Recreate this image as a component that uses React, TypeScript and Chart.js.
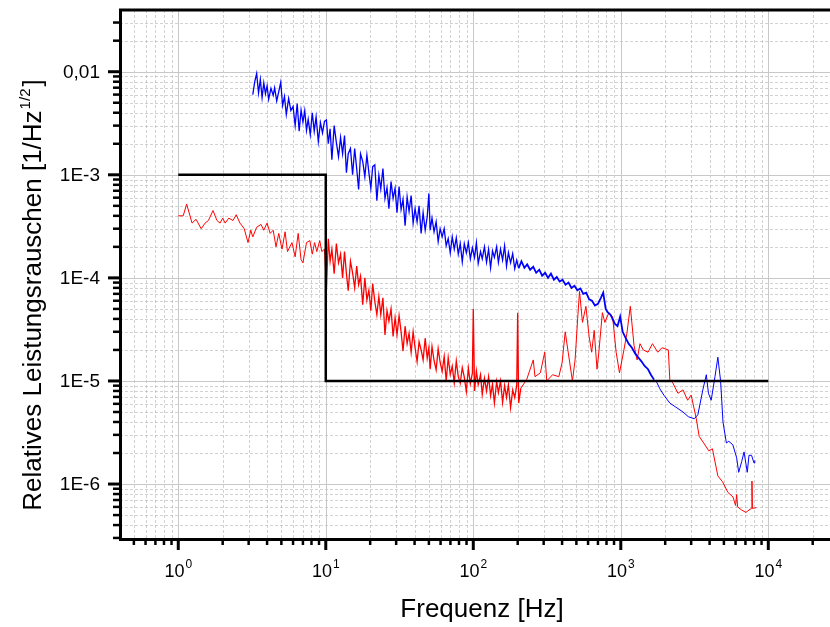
import React, { useEffect, useRef } from 'react';
import { Chart, registerables } from 'chart.js';

Chart.register(...registerables);

// Axis ranges (log scales)
const X_MIN = 0.4027;
const X_MAX = 26200;
const Y_MIN = 2.93e-7;
const Y_MAX = 0.0397;

// Tick labels
const xMajorTicks = [1, 10, 100, 1000, 10000];
const xTickExponents = ['0', '1', '2', '3', '4'];
const yMajorTicks = [1e-2, 1e-3, 1e-4, 1e-5, 1e-6];
const yTickLabels = ['0,01', '1E-3', '1E-4', '1E-5', '1E-6'];
const minorMantissas = [2, 3, 4, 5, 6, 7, 8, 9];

const xTitle = 'Frequenz [Hz]';
const yTitleMain = 'Relatives Leistungsrauschen [1/Hz';
const yTitleSup = '1/2';
const yTitleEnd = ']';

// Limit (black step line): [frequency Hz, value]
const limitLine: [number, number][] = [
  [1, 1e-3], [10, 1e-3], [10, 1e-5], [10000, 1e-5],
];

// Blue noise spectrum: [frequency Hz, value]
const blueNoise: [number, number][] = [
  [3.2, 6.0e-3], [3.3, 8.0e-3], [3.4, 9.6e-3], [3.5, 6.2e-3], [3.6, 8.4e-3], [3.7, 5.6e-3], [3.8, 7.8e-3], [3.9, 6.1e-3],
  [4.0, 7.3e-3], [4.1, 5.4e-3], [4.25, 6.9e-3], [4.4, 5.9e-3], [4.5, 7.0e-3], [4.65, 5.2e-3], [4.8, 6.4e-3], [4.95, 7.9e-3],
  [5.1, 4.7e-3], [5.25, 5.75e-3], [5.4, 3.85e-3], [5.6, 5.5e-3], [5.8, 4.2e-3], [6.0, 4.6e-3], [6.2, 3.0e-3], [6.4, 4.9e-3],
  [6.6, 2.65e-3], [6.8, 4.25e-3], [7.0, 3.25e-3], [7.2, 4.2e-3], [7.4, 2.7e-3], [7.6, 3.45e-3], [7.85, 2.45e-3], [8.1, 4.0e-3],
  [8.35, 2.65e-3], [8.6, 3.65e-3], [8.9, 2.1e-3], [9.2, 3.2e-3], [9.5, 2.55e-3], [9.8, 3.3e-3],
  [10.1, 3.4e-3], [10.4, 2.0e-3], [10.7, 2.8e-3], [11, 1.4e-3], [11.4, 3.0e-3], [11.8, 2.05e-3], [12.2, 1.5e-3], [12.6, 2.3e-3],
  [13, 1.6e-3], [13.4, 2.4e-3], [13.8, 1.05e-3], [14.2, 1.6e-3], [14.7, 1.8e-3], [15.2, 1.0e-3], [15.7, 1.8e-3], [16.2, 1.15e-3],
  [16.7, 7.2e-4], [17.2, 1.6e-3], [17.8, 1.35e-3], [18.4, 9.6e-4], [19, 1.55e-3], [19.6, 1.05e-3], [20.2, 7.4e-4], [20.8, 1.2e-3],
  [21.5, 1.25e-3], [22.2, 5.6e-4], [22.9, 9.9e-4], [23.6, 7.3e-4], [24.4, 1.15e-3], [25.2, 5.9e-4], [26, 7.5e-4], [26.8, 4.7e-4],
  [27.7, 8.6e-4], [28.6, 5.9e-4], [29.5, 7.4e-4], [30.4, 4.3e-4], [31.4, 7.7e-4], [32.4, 4.6e-4], [33.4, 5.8e-4], [34.5, 3.2e-4],
  [35.6, 6.1e-4], [36.7, 4.4e-4], [37.9, 6.3e-4], [39.1, 3.4e-4], [40.3, 4.7e-4], [41.6, 3.5e-4], [42.9, 5.0e-4], [44.3, 2.7e-4],
  [45.7, 4.3e-4], [47.2, 2.9e-4], [48.7, 3.9e-4], [50, 6.6e-4], [51, 2.9e-4], [52.5, 3.8e-4], [54.2, 2.8e-4], [56, 3.5e-4],
  [57.8, 2.25e-4], [59.6, 3.0e-4], [61.5, 2.5e-4], [63.5, 3.0e-4], [65.5, 2.05e-4], [67.6, 2.4e-4], [69.8, 1.75e-4], [72, 2.5e-4],
  [74.3, 1.9e-4], [76.7, 2.45e-4], [79.1, 1.7e-4], [81.6, 2.15e-4], [84.2, 1.43e-4], [86.9, 2.15e-4], [89.7, 1.75e-4], [92.6, 2.2e-4],
  [95.5, 1.53e-4], [98.6, 1.96e-4], [102, 1.58e-4], [105, 2.2e-4], [108, 1.38e-4], [112, 1.8e-4], [115, 1.53e-4], [119, 2.0e-4],
  [123, 1.42e-4], [127, 1.9e-4], [131, 1.25e-4], [135, 1.83e-4], [139, 1.58e-4], [144, 2.0e-4], [148, 1.41e-4], [153, 1.9e-4],
  [158, 1.49e-4], [163, 2.05e-4], [168, 1.3e-4], [173, 1.76e-4], [179, 1.4e-4], [185, 1.72e-4], [191, 1.23e-4], [197, 1.49e-4],
  [203, 1.24e-4],
  [212, 1.45e-4], [222, 1.25e-4], [232, 1.35e-4], [243, 1.2e-4], [255, 1.28e-4], [267, 1.12e-4], [280, 1.2e-4], [293, 1.05e-4],
  [307, 1.12e-4], [321, 1.0e-4], [336, 1.1e-4], [352, 9.6e-5], [368, 1.02e-4], [385, 9.2e-5], [403, 9.6e-5], [422, 8.6e-5],
  [442, 9.0e-5], [463, 8.0e-5], [485, 8.4e-5], [508, 7.6e-5], [532, 7.9e-5], [557, 7.0e-5], [583, 7.2e-5], [610, 6.2e-5],
  [638, 6.0e-5], [668, 5.4e-5], [700, 5.6e-5], [733, 6.4e-5], [760, 7.2e-5], [790, 5.0e-5], [820, 4.6e-5], [850, 4.4e-5],
  [880, 4.0e-5], [910, 3.6e-5], [950, 3.4e-5], [990, 4.2e-5], [1030, 3.0e-5], [1080, 2.6e-5], [1130, 2.3e-5], [1190, 2.1e-5],
  [1250, 1.85e-5], [1310, 1.7e-5], [1380, 1.55e-5], [1450, 1.4e-5], [1530, 1.3e-5], [1600, 1.15e-5], [1680, 1.03e-5], [1760, 9.6e-6],
  [1840, 8.4e-6], [1970, 7.2e-6], [2150, 6.1e-6], [2350, 5.6e-6], [2640, 5.0e-6], [2870, 4.5e-6], [3150, 4.3e-6], [3330, 4.7e-6],
  [3600, 8.2e-6], [3800, 1.15e-5], [3930, 7.6e-6], [4100, 6.5e-6], [4350, 1.1e-5], [4550, 1.7e-5], [4750, 1.0e-5], [4930, 4.0e-6],
  [5200, 2.5e-6], [5400, 2.6e-6], [5750, 2.4e-6], [6100, 1.8e-6], [6300, 1.3e-6], [6600, 1.65e-6], [6850, 2.05e-6], [7200, 1.3e-6],
  [7400, 1.9e-6], [7700, 1.9e-6], [8000, 1.6e-6], [8100, 1.7e-6],
];

// Red noise spectrum: [frequency Hz, value]
const redNoise: [number, number][] = [
  [1.0, 4.0e-4], [1.08, 4.0e-4], [1.14, 5.2e-4], [1.24, 3.4e-4], [1.32, 3.7e-4], [1.43, 3.0e-4], [1.52, 3.4e-4], [1.6, 3.6e-4],
  [1.72, 4.5e-4], [1.83, 3.6e-4], [1.92, 3.4e-4], [2.0, 3.8e-4], [2.08, 3.4e-4], [2.2, 3.8e-4], [2.35, 3.6e-4], [2.47, 4.1e-4],
  [2.62, 3.4e-4], [2.8, 3.0e-4], [2.97, 2.2e-4], [3.1, 2.9e-4], [3.2, 2.5e-4], [3.4, 3.1e-4], [3.64, 3.3e-4], [3.8, 2.9e-4],
  [4.0, 3.4e-4], [4.2, 2.7e-4], [4.4, 2.9e-4], [4.6, 2.0e-4], [4.8, 2.7e-4], [5.05, 1.9e-4], [5.3, 2.8e-4], [5.5, 1.8e-4],
  [5.9, 2.2e-4], [6.2, 1.6e-4], [6.5, 2.7e-4], [6.8, 1.5e-4], [7.0, 1.4e-4], [7.4, 2.2e-4], [7.8, 2.3e-4], [8.1, 1.7e-4],
  [8.4, 2.2e-4], [8.7, 1.8e-4], [9.1, 2.3e-4], [9.4, 1.8e-4], [9.8, 1.9e-4], [10.1, 7.5e-5],
  [10.4, 2.4e-4], [10.7, 1.45e-4], [11, 1.9e-4], [11.4, 1.1e-4], [11.8, 2.15e-4], [12.2, 1.4e-4], [12.6, 1.7e-4], [13, 1.0e-4],
  [13.4, 1.8e-4], [13.8, 1.1e-4], [14.2, 7.5e-5], [14.7, 1.45e-4], [15.2, 1.12e-4], [15.7, 8.0e-5], [16.2, 1.3e-4], [16.7, 8.6e-5],
  [17.2, 1.04e-4], [17.8, 5.5e-5], [18.4, 1.0e-4], [19, 6.1e-5], [19.6, 7.6e-5], [20.2, 4.8e-5], [20.8, 8.8e-5], [21.5, 5.9e-5],
  [22.2, 4.4e-5], [22.9, 6.6e-5], [23.6, 4.4e-5], [24.4, 6.4e-5], [25.2, 2.8e-5], [26, 4.8e-5], [26.8, 3.8e-5], [27.7, 5.0e-5],
  [28.6, 2.7e-5], [29.5, 4.1e-5], [30.4, 2.8e-5], [31.4, 4.3e-5], [32.4, 3.0e-5], [33.4, 1.95e-5], [34.5, 3.4e-5], [35.6, 2.3e-5],
  [36.7, 2.9e-5], [37.9, 1.9e-5], [39.1, 3.0e-5], [40.3, 2.1e-5], [41.6, 1.54e-5], [42.9, 2.4e-5], [44.3, 2.0e-5], [45.7, 1.6e-5],
  [47.2, 2.6e-5], [48.7, 1.66e-5], [50, 2.1e-5], [51, 1.3e-5], [52.5, 2.16e-5], [54.2, 1.58e-5], [56, 1.28e-5], [57.8, 2.06e-5],
  [59.6, 1.52e-5], [61.5, 1.24e-5], [63.5, 1.73e-5], [65.5, 1.0e-5], [67.6, 1.68e-5], [69.8, 1.16e-5], [72, 1.39e-5], [74.3, 9.6e-6],
  [76.7, 1.56e-5], [79.1, 1.1e-5], [81.6, 9.5e-6], [84.2, 1.35e-5], [86.9, 1.09e-5], [89.7, 7.9e-6], [92.6, 1.33e-5], [95.5, 9.4e-6],
  [98.6, 1.19e-5], [100, 5.0e-5], [102, 8.0e-6], [105, 1.25e-5], [108, 9.2e-6], [112, 1.15e-5], [115, 7.4e-6], [119, 1.06e-5],
  [123, 8.0e-6], [127, 1.1e-5], [131, 7.2e-6], [135, 9.3e-6], [139, 6.1e-6], [144, 9.9e-6], [148, 7.7e-6], [153, 1.0e-5],
  [158, 6.2e-6], [163, 9.0e-6], [168, 6.9e-6], [173, 9.2e-6], [179, 5.5e-6], [185, 8.2e-6], [191, 6.9e-6], [197, 9.1e-6],
  [200, 4.6e-5], [203, 6.1e-6], [210, 8.5e-6],
  [230, 1.03e-5], [255, 1.6e-5], [262, 1.1e-5], [285, 1.2e-5], [305, 1.9e-5], [315, 1.0e-5], [345, 1.15e-5],
  [380, 1.1e-5], [400, 1.5e-5], [420, 3.0e-5], [440, 1.9e-5], [470, 1.0e-5], [490, 1.6e-5], [510, 4.0e-5], [525, 7.4e-5],
  [550, 3.7e-5], [580, 5.3e-5], [610, 2.7e-5], [635, 1.9e-5], [660, 3.1e-5], [690, 1.3e-5], [710, 1.9e-5], [750, 4.6e-5],
  [780, 3.7e-5], [830, 4.6e-5], [880, 4.2e-5], [930, 1.9e-5], [980, 1.2e-5], [1050, 2.0e-5], [1100, 2.9e-5], [1160, 5.3e-5],
  [1230, 2.2e-5], [1290, 1.6e-5], [1350, 2.3e-5], [1420, 2.0e-5], [1530, 1.9e-5], [1640, 2.3e-5], [1780, 1.9e-5], [1900, 2.1e-5],
  [2100, 2.0e-5], [2150, 1.03e-5], [2250, 9.6e-6], [2440, 7.6e-6], [2640, 8.2e-6], [2840, 6.5e-6], [3000, 7.3e-6], [3250, 4.3e-6],
  [3400, 2.9e-6], [3650, 2.5e-6], [3950, 2.1e-6], [4180, 2.2e-6], [4550, 1.2e-6], [4900, 1.05e-6], [5320, 8.3e-7], [5760, 7.5e-7],
  [6000, 6.2e-7], [6100, 7.9e-7], [6200, 6.0e-7], [6600, 5.6e-7], [7050, 5.3e-7], [7400, 5.6e-7], [7700, 5.8e-7], [7750, 1.07e-6],
  [7800, 5.8e-7], [8300, 5.9e-7],
];

const toXY = (arr: [number, number][]) => arr.map(([x, y]) => ({ x, y }));

function logTickValues(min: number, max: number) {
  const out: { value: number; major: boolean }[] = [];
  const d0 = Math.floor(Math.log10(min));
  const d1 = Math.ceil(Math.log10(max));
  for (let d = d0; d <= d1; d++) {
    const base = Math.pow(10, d);
    for (const m of [1, ...minorMantissas]) {
      const v = m * base;
      if (v >= min * 0.9999 && v <= max * 1.0001) out.push({ value: v, major: m === 1 });
    }
  }
  return out;
}

const FONT = '"Liberation Sans", Arial, Helvetica, sans-serif';

const originPlugin = {
  id: 'originStyle',
  beforeDatasetsDraw(chart: any) {
    const { ctx, chartArea: a, scales } = chart;
    const xs = scales.x;
    const ys = scales.y;
    ctx.save();
    ctx.beginPath();
    ctx.rect(a.left, a.top, a.right - a.left, a.bottom - a.top);
    ctx.clip();
    // minor grid (dashed)
    ctx.lineWidth = 1;
    ctx.strokeStyle = 'rgba(165,165,165,0.5)';
    ctx.setLineDash([3, 2]);
    for (const t of logTickValues(X_MIN, X_MAX)) {
      if (t.major) continue;
      const px = Math.round(xs.getPixelForValue(t.value)) + 0.5;
      ctx.beginPath(); ctx.moveTo(px, a.top); ctx.lineTo(px, a.bottom); ctx.stroke();
    }
    for (const t of logTickValues(Y_MIN, Y_MAX)) {
      if (t.major) continue;
      const py = Math.round(ys.getPixelForValue(t.value)) + 0.5;
      ctx.beginPath(); ctx.moveTo(a.left, py); ctx.lineTo(a.right, py); ctx.stroke();
    }
    // major grid (solid)
    ctx.setLineDash([]);
    ctx.strokeStyle = '#c8c8c8';
    for (const v of xMajorTicks) {
      const px = Math.round(xs.getPixelForValue(v)) + 0.5;
      ctx.beginPath(); ctx.moveTo(px, a.top); ctx.lineTo(px, a.bottom); ctx.stroke();
    }
    for (const v of yMajorTicks) {
      const py = Math.round(ys.getPixelForValue(v)) + 0.5;
      ctx.beginPath(); ctx.moveTo(a.left, py); ctx.lineTo(a.right, py); ctx.stroke();
    }
    ctx.restore();
  },
  afterDraw(chart: any) {
    const { ctx, chartArea: a, scales } = chart;
    const xs = scales.x;
    const ys = scales.y;
    ctx.save();
    ctx.strokeStyle = '#000';
    ctx.fillStyle = '#000';
    // ticks on x axis
    for (const t of logTickValues(X_MIN, X_MAX)) {
      const px = xs.getPixelForValue(t.value);
      ctx.lineWidth = t.major ? 3 : 2.5;
      ctx.beginPath();
      ctx.moveTo(px, a.bottom);
      ctx.lineTo(px, a.bottom + (t.major ? 11 : 6));
      ctx.stroke();
    }
    // ticks on y axis
    for (const t of logTickValues(Y_MIN, Y_MAX)) {
      const py = ys.getPixelForValue(t.value);
      ctx.lineWidth = t.major ? 3 : 2.5;
      ctx.beginPath();
      ctx.moveTo(a.left, py);
      ctx.lineTo(a.left - (t.major ? 12 : 7), py);
      ctx.stroke();
    }
    // axis lines
    ctx.lineWidth = 3;
    ctx.beginPath();
    ctx.moveTo(a.left + 0.5, a.top - 1.5);
    ctx.lineTo(a.left + 0.5, a.bottom + 2);
    ctx.moveTo(a.left - 1, a.bottom + 0.5);
    ctx.lineTo(a.right, a.bottom + 0.5);
    ctx.moveTo(a.left - 1, a.top);
    ctx.lineTo(a.right, a.top);
    ctx.stroke();

    // y tick labels
    ctx.font = `19px ${FONT}`;
    ctx.textAlign = 'right';
    ctx.textBaseline = 'middle';
    yMajorTicks.forEach((v, i) => {
      ctx.fillText(yTickLabels[i], a.left - 20, ys.getPixelForValue(v) + 1);
    });

    // x tick labels (10 with superscript exponent)
    ctx.textAlign = 'left';
    ctx.textBaseline = 'alphabetic';
    xMajorTicks.forEach((v, i) => {
      const px = xs.getPixelForValue(v);
      ctx.font = `18px ${FONT}`;
      const w1 = ctx.measureText('10').width;
      ctx.font = `12px ${FONT}`;
      const w2 = ctx.measureText(xTickExponents[i]).width;
      const start = px - (w1 + w2 + 1) / 2;
      ctx.font = `18px ${FONT}`;
      ctx.fillText('10', start, a.bottom + 38);
      ctx.font = `12px ${FONT}`;
      ctx.fillText(xTickExponents[i], start + w1 + 1, a.bottom + 29);
    });

    // x title
    ctx.font = `26px ${FONT}`;
    ctx.textAlign = 'center';
    ctx.fillText(xTitle, 482, 617);

    // y title (rotated, with superscript)
    ctx.translate(41, 295);
    ctx.rotate(-Math.PI / 2);
    ctx.textAlign = 'left';
    ctx.font = `26px ${FONT}`;
    const m1 = ctx.measureText(yTitleMain).width;
    const m3 = ctx.measureText(yTitleEnd).width;
    ctx.font = `15px ${FONT}`;
    const m2 = ctx.measureText(yTitleSup).width;
    const total = m1 + m2 + m3 + 3;
    let sx = -total / 2;
    ctx.font = `26px ${FONT}`;
    ctx.fillText(yTitleMain, sx, 0);
    sx += m1 + 1;
    ctx.font = `15px ${FONT}`;
    ctx.fillText(yTitleSup, sx, -11);
    sx += m2 + 2;
    ctx.font = `26px ${FONT}`;
    ctx.fillText(yTitleEnd, sx, 0);
    ctx.restore();
  },
};

// dense (many-sample) frequency bands are drawn slightly heavier, like the original's overplotted traces
const blueDense = (f: number) => (f >= 200 && f <= 1650 ? 1.8 : f < 200 ? 1.3 : 1);
const redDense = (f: number) => (f >= 10 && f < 210 ? 1.3 : 1);

export default function App() {
  const ref = useRef<HTMLCanvasElement>(null);
  useEffect(() => {
    const canvas = ref.current!;
    const chart = new Chart(canvas, {
      type: 'line',
      data: {
        datasets: [
          {
            label: 'Grenzwert',
            data: toXY(limitLine),
            borderColor: '#000000',
            borderWidth: 2.5,
            pointRadius: 0,
            tension: 0,
          },
          {
            label: 'Blau',
            data: toXY(blueNoise),
            borderColor: '#0000ff',
            borderWidth: 1.1,
            pointRadius: 0,
            tension: 0,
            segment: { borderWidth: (c: any) => blueDense(c.p0.parsed.x) },
          },
          {
            label: 'Rot',
            data: toXY(redNoise),
            borderColor: '#ff0000',
            borderWidth: 1.1,
            pointRadius: 0,
            tension: 0,
            segment: { borderWidth: (c: any) => redDense(c.p0.parsed.x) },
          },
        ],
      },
      options: {
        responsive: false,
        animation: false,
        events: [],
        layout: { padding: { top: 10, right: 0, left: 0, bottom: 0 } },
        plugins: { legend: { display: false }, tooltip: { enabled: false } },
        scales: {
          x: {
            type: 'logarithmic',
            min: X_MIN,
            max: X_MAX,
            ticks: { display: false },
            grid: { display: false },
            border: { display: false },
            afterFit: (s: any) => { s.height = 88; },
          },
          y: {
            type: 'logarithmic',
            min: Y_MIN,
            max: Y_MAX,
            ticks: { display: false },
            grid: { display: false },
            border: { display: false },
            afterFit: (s: any) => { s.width = 120; },
          },
        },
      } as any,
      plugins: [originPlugin],
    });
    return () => chart.destroy();
  }, []);
  return (
    <div style={{ position: 'absolute', left: 0, top: 0, width: 830, height: 627, background: '#fff' }}>
      <canvas ref={ref} width={830} height={627} style={{ display: 'block' }} />
    </div>
  );
}
